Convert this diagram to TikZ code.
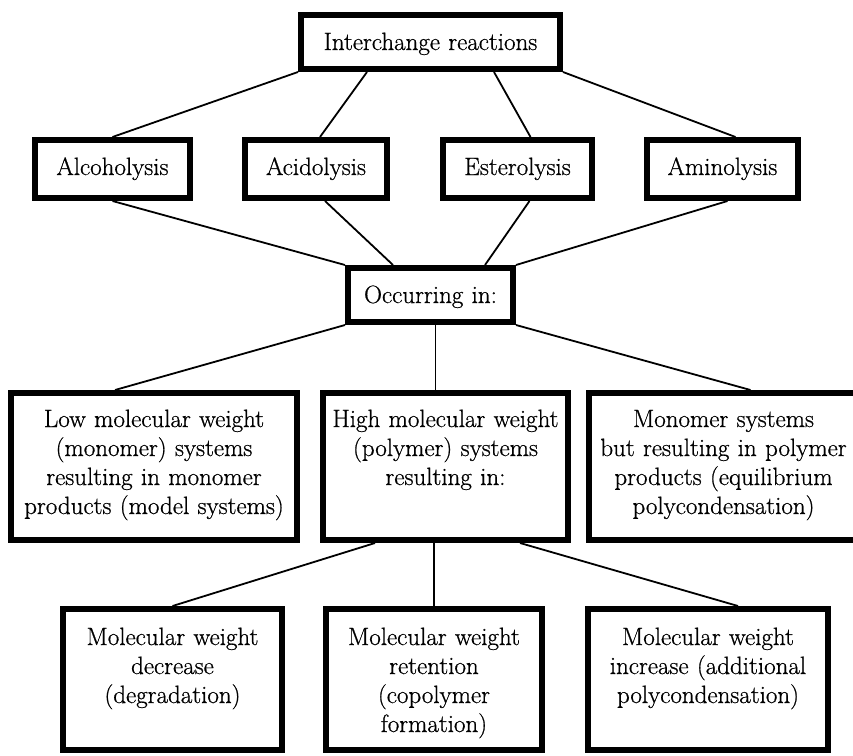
\documentclass[tikz,border=0pt]{standalone}
\usepackage{fontspec}
\usepackage{tikz}
\newfontfamily\diagfont{Latin Modern Roman}[FakeBold=0.7]

\begin{document}
\begin{tikzpicture}[x=1pt, y=-1pt,
    box/.style={draw, line width=6pt, align=center, inner sep=0pt,
      font=\diagfont\fontsize{25}{29}\selectfont},
    onebox/.style={box, text height=35pt, text depth=19pt},
    twobox/.style={box, text height=35pt, text depth=23pt},
    midbox/.style={box, text height=34pt, text depth=113pt},
    lowbox/.style={box, text height=36pt, text depth=105pt},
    link/.style={line width=1.8pt}]
          \useasboundingbox (0,0) rectangle (853,755);
          % interchange reactions
          \node[onebox, text width=259pt] (top) at (430.5,42) {Interchange reactions};
          % the four reactions
          \node[twobox, text width=155pt] (alc) at (112.5,169) {Alcoholysis};
          \node[twobox, text width=142pt] (acid) at (316,169) {Acidolysis};
          \node[twobox, text width=149pt] (ester) at (517.5,169) {Esterolysis};
          \node[twobox, text width=151pt] (amino) at (722.5,169) {Aminolysis};
          % occurring in
          \node[onebox, text width=165pt] (occ) at (430.5,295) {Occurring in:};
          % systems
          \node[midbox, text width=286pt] (low) at (154,466.5) {Low molecular weight\\(monomer) systems\\resulting in monomer\\products (model systems)};
          \node[midbox, text width=245pt] (high) at (445.5,466.5) {High molecular weight\\(polymer) systems\\resulting in:};
          \node[midbox, text width=269pt] (mono) at (723.5,466.5) {Monomer systems\\but resulting in polymer\\products (equilibrium\\polycondensation)};
          % molecular weight results
          \node[lowbox, text width=219pt] (dec) at (172.5,679.5) {Molecular weight\\decrease\\(degradation)};
          \node[lowbox, text width=216pt] (ret) at (434,679.5) {Molecular weight\\retention\\(copolymer\\formation)};
          \node[lowbox, text width=240pt] (inc) at (708,679.5) {Molecular weight\\increase (additional\\polycondensation)};
          % lines from the top box
          \draw[link] (top.south west) -- (alc.north);
          \draw[link] ([xshift=69pt]top.south west) -- ([xshift=4pt]acid.north);
          \draw[link] ([xshift=-69pt]top.south east) -- ([xshift=13pt]ester.north);
          \draw[link] (top.south east) -- ([xshift=13pt]amino.north);
          % lines into occurring in
          \draw[link] (alc.south) -- (occ.north west);
          \draw[link] ([xshift=9pt]acid.south) -- ([xshift=48pt]occ.north west);
          \draw[link] ([xshift=12pt]ester.south) -- ([xshift=-31pt]occ.north east);
          \draw[link] ([xshift=5pt]amino.south) -- (occ.north east);
          % lines to the systems
          \draw[link] (occ.south west) -- ([xshift=-39pt]low.north);
          \draw[link] ([xshift=5pt]occ.south) -- ([xshift=5pt]occ.south |- high.north);
          \draw[link] (occ.south east) -- ([xshift=27pt]mono.north);
          % lines to the results
          \draw[link] ([xshift=55pt]high.south west) -- (dec.north);
          \draw[link] (ret.north |- high.south) -- (ret.north);
          \draw[link] ([xshift=-51pt]high.south east) -- ([xshift=30pt]inc.north);
        \end{tikzpicture}
\end{document}
